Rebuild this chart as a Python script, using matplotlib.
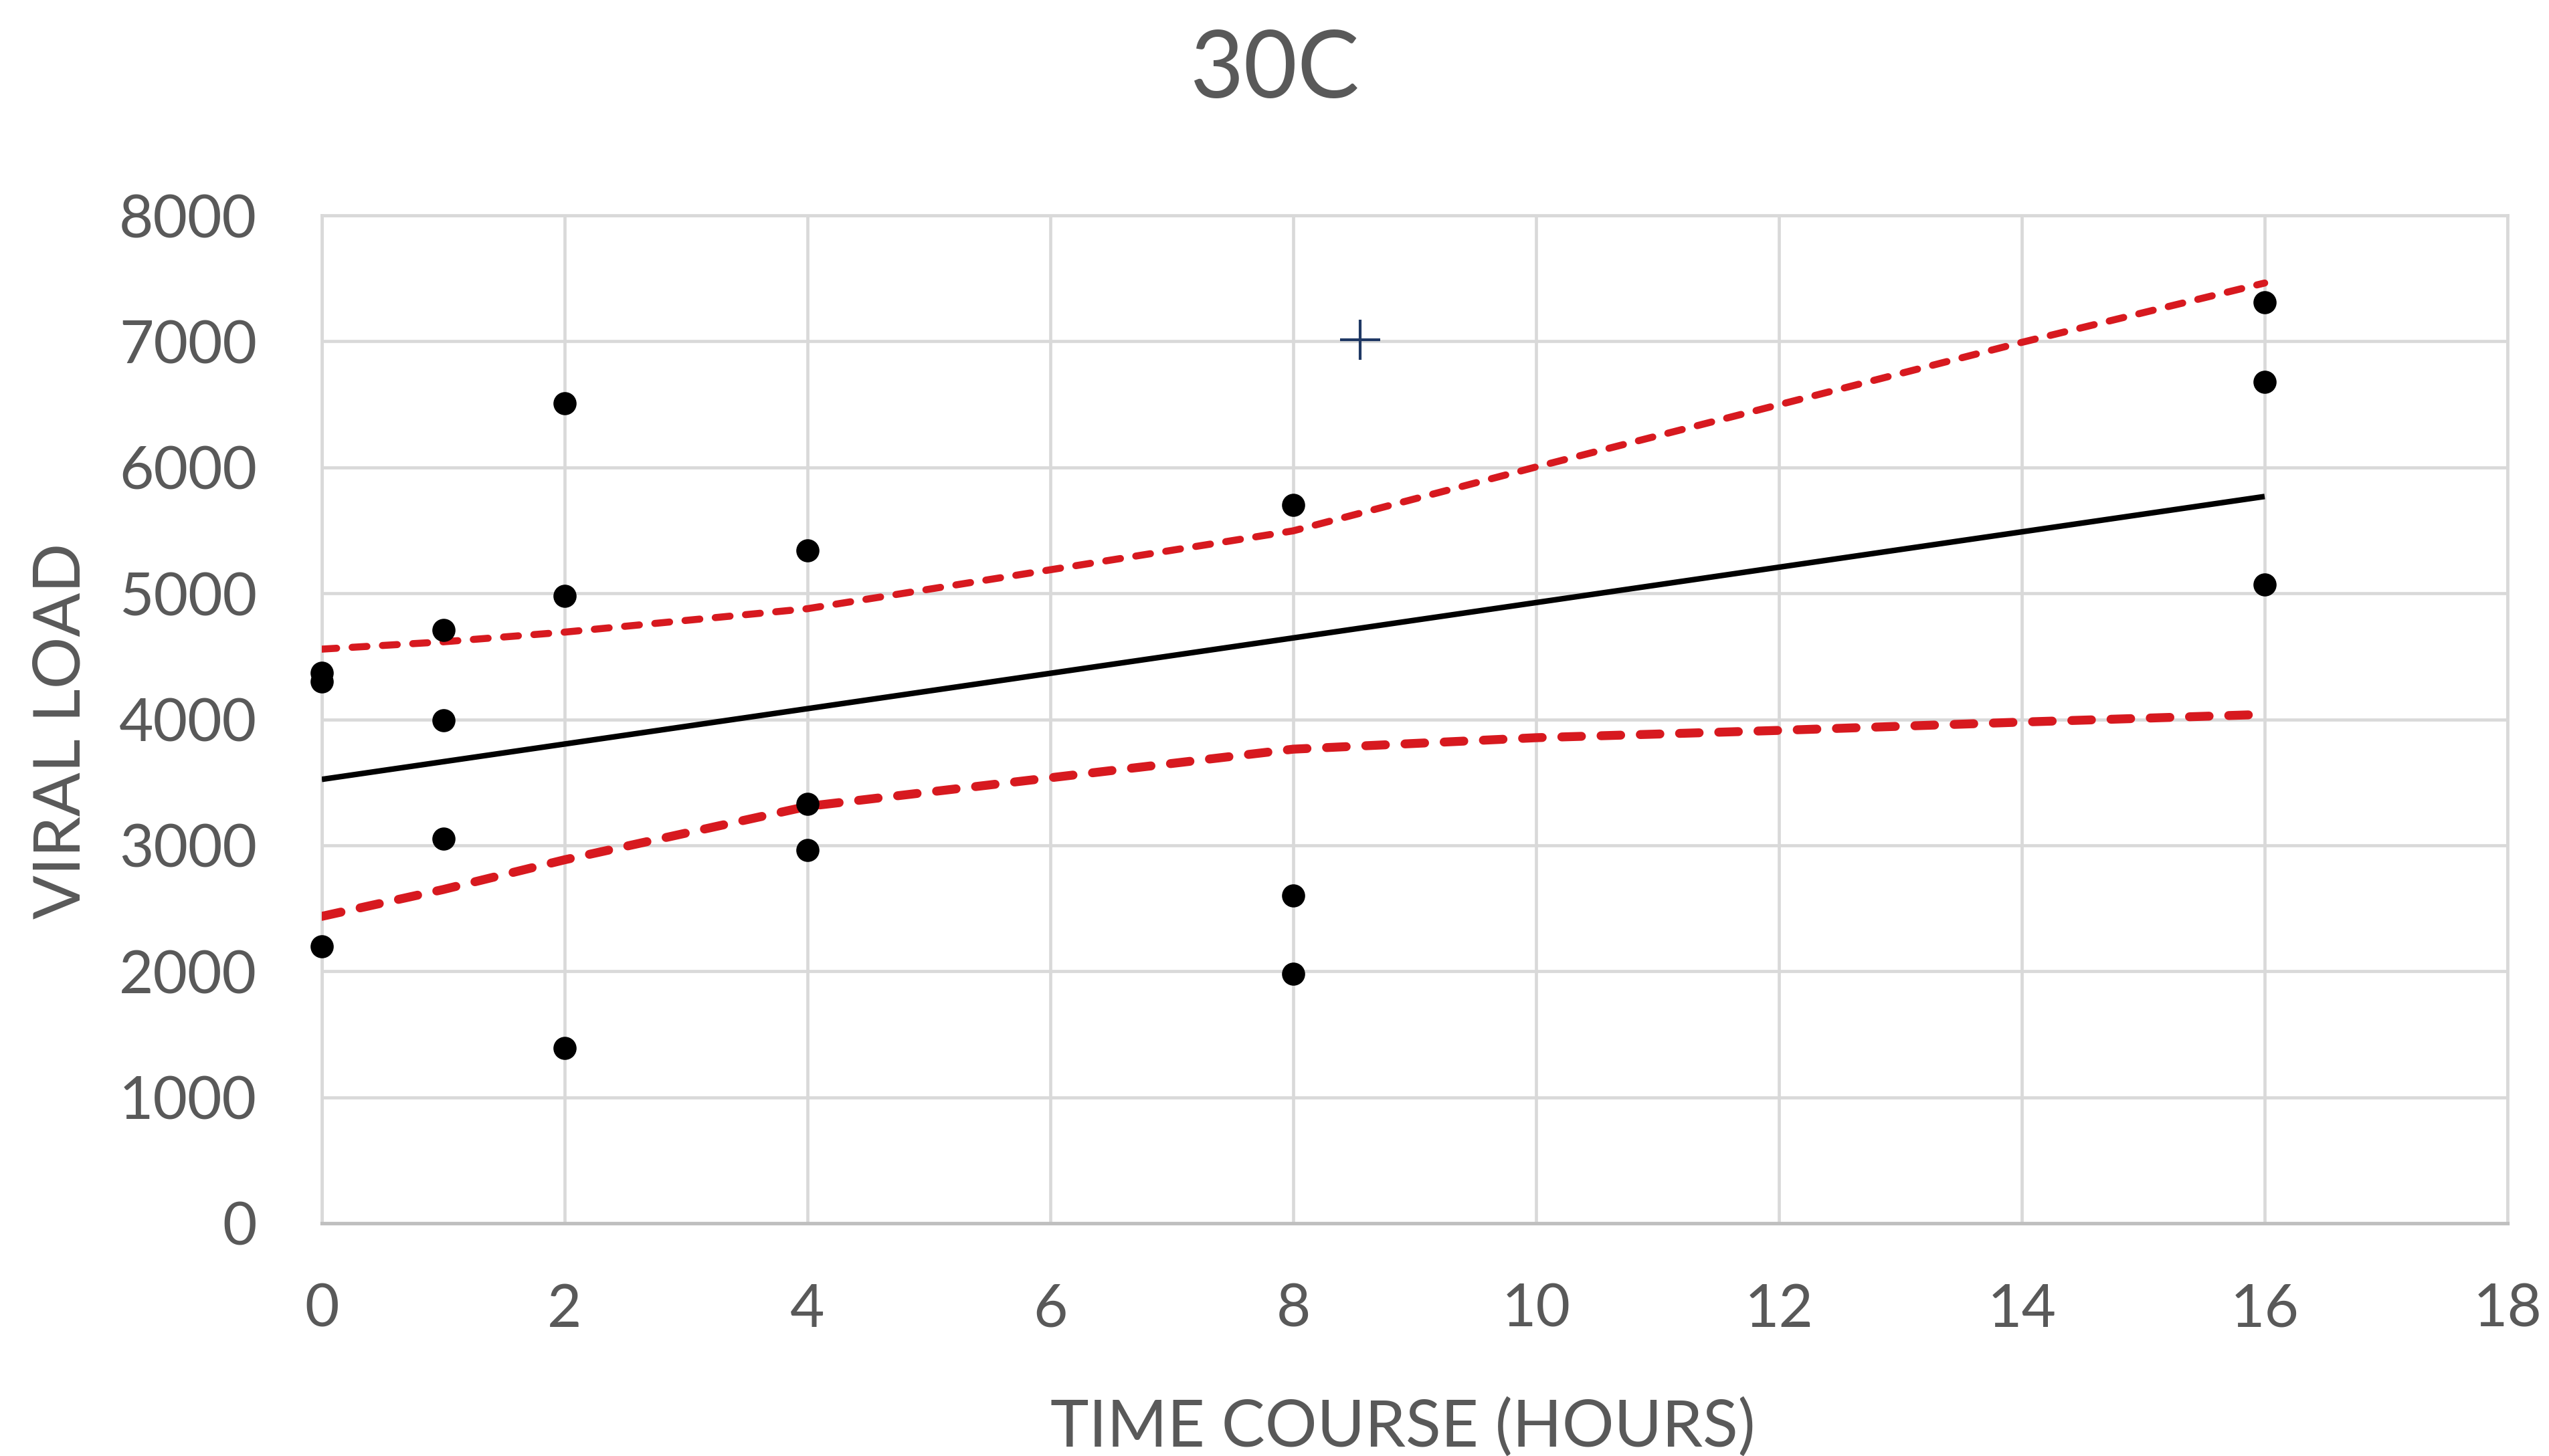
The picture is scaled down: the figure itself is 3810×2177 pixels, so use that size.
import numpy as np
import matplotlib
matplotlib.use("Agg")
import matplotlib.pyplot as plt

# ---------------- data ----------------
title = "30C"
x_label = "TIME COURSE (HOURS)"
y_label = "VIRAL LOAD"

time_h = [0, 0, 0, 1, 1, 1, 2, 2, 2, 4, 4, 4, 8, 8, 8, 16, 16, 16]
viral_load = [4300, 4370, 2200, 4710, 3990, 3050, 6510, 4980, 1390,
              5340, 3330, 2960, 5700, 2600, 1980, 7310, 6680, 5070]

band_x = [0, 1, 2, 4, 8, 10, 12, 14, 16]
upper_band = [4557, 4615, 4692, 4878, 5496, 6003, 6497, 6992, 7463]
lower_band = [2436, 2649, 2885, 3309, 3763, 3854, 3912, 3978, 4039]

plus_x = [8.55]
plus_y = [7010]

x_ticks = [0, 2, 4, 6, 8, 10, 12, 14, 16, 18]
y_ticks = [0, 1000, 2000, 3000, 4000, 5000, 6000, 7000, 8000]

# ---------------- style ----------------
plt.rcParams["font.family"] = ["Lato", "DejaVu Sans"]
TEXT = "#595959"
GRID = "#d9d9d9"
RED = "#d7191f"

W, H = 3810, 2177
fig = plt.figure(figsize=(W / 100, H / 100), dpi=100)
fig.patch.set_facecolor("white")

L, R, T, B = 481, 3748, 322, 1829
ax = fig.add_axes([L / W, 1 - B / H, (R - L) / W, (B - T) / H])

ax.set_xlim(0, 18)
ax.set_ylim(0, 8000)
ax.set_xticks(x_ticks)
ax.set_yticks(y_ticks)
ax.grid(True, color=GRID, linewidth=3.4, zorder=0)
ax.set_axisbelow(True)
for s in ["left", "top", "right"]:
    ax.spines[s].set_color(GRID)
    ax.spines[s].set_linewidth(3.4)
ax.spines["bottom"].set_color("#bfbfbf")
ax.spines["bottom"].set_linewidth(3.8)

ax.tick_params(axis="both", length=0, labelsize=64, labelcolor=TEXT)
ax.tick_params(axis="x", pad=64)
ax.tick_params(axis="y", pad=70)

# regression line (least squares fit of the data)
slope, intercept = np.polyfit(time_h, viral_load, 1)
fit_x = np.array([min(time_h), max(time_h)])
ax.plot(fit_x, intercept + slope * fit_x, color="black", linewidth=6,
        solid_capstyle="butt", zorder=3)

# confidence bands
ax.plot(band_x, upper_band, color=RED, linewidth=7.6,
        linestyle=(0, (2.1, 2.2)), dash_capstyle="round", zorder=3)
ax.plot(band_x, lower_band, color=RED, linewidth=9.6,
        linestyle=(0, (2.2, 2.2)), dash_capstyle="round", zorder=3)

# points
ax.scatter(time_h, viral_load, s=620, color="black", zorder=5,
           clip_on=False, linewidths=0)
ax.scatter(plus_x, plus_y, marker="+", s=1900, color="#1f3864",
           linewidths=3, zorder=5)

# labels
fig.text(0.5, 1 - 146 / H, title, ha="center", va="baseline",
         fontsize=100, color=TEXT)
fig.text(2097 / W, 1 - 2163 / H, x_label, ha="center", va="baseline",
         fontsize=70, color=TEXT)
fig.text(120 / W, 1 - 1093 / H, y_label, ha="center", va="baseline",
         rotation=90, rotation_mode="anchor", fontsize=70, color=TEXT)

fig.savefig("out.png", dpi=100, facecolor="white")
